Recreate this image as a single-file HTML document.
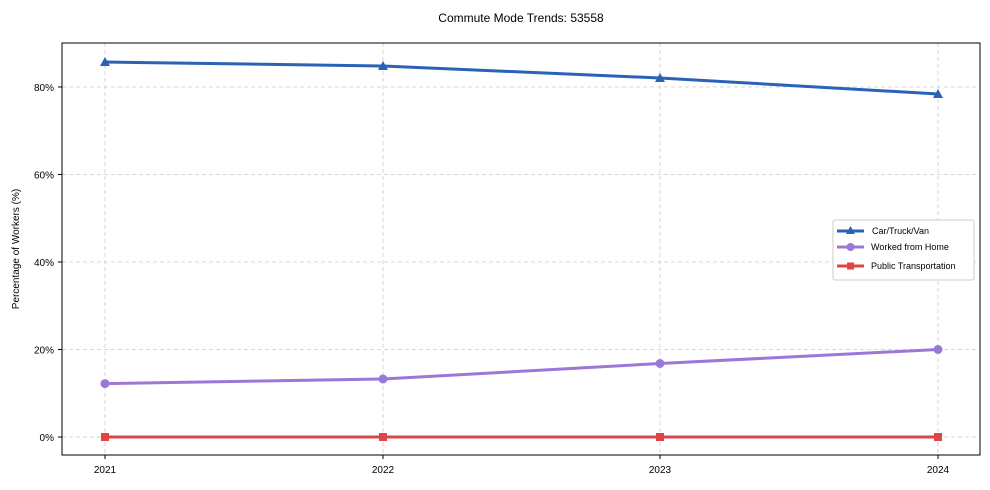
<!DOCTYPE html>
<html><head><style>body{margin:0;background:#fff}svg{display:block}text{font-family:"Liberation Sans",sans-serif;fill:#000}</style></head><body>
<svg width="990" height="490" viewBox="0 0 990 490">
<rect width="990" height="490" fill="#fff"/>
<text x="521" y="22" font-size="12" text-anchor="middle">Commute Mode Trends: 53558</text>
<g stroke="#ccc" stroke-dasharray="4,3" stroke-width="0.8">
<line x1="105" y1="43" x2="105" y2="455"/><line x1="383" y1="43" x2="383" y2="455"/><line x1="660" y1="43" x2="660" y2="455"/><line x1="938" y1="43" x2="938" y2="455"/>
<line x1="62" y1="437" x2="980" y2="437"/><line x1="62" y1="349.5" x2="980" y2="349.5"/><line x1="62" y1="262" x2="980" y2="262"/><line x1="62" y1="174.5" x2="980" y2="174.5"/><line x1="62" y1="87" x2="980" y2="87"/>
</g>
<rect x="62" y="43" width="918" height="412" fill="none" stroke="#000" stroke-width="1"/>
<g stroke="#000"><line x1="105" y1="455" x2="105" y2="459"/><line x1="383" y1="455" x2="383" y2="459"/><line x1="660" y1="455" x2="660" y2="459"/><line x1="938" y1="455" x2="938" y2="459"/>
<line x1="58" y1="437" x2="62" y2="437"/><line x1="58" y1="349.5" x2="62" y2="349.5"/><line x1="58" y1="262" x2="62" y2="262"/><line x1="58" y1="174.5" x2="62" y2="174.5"/><line x1="58" y1="87" x2="62" y2="87"/></g>
<g font-size="10" text-anchor="middle"><text x="105" y="473">2021</text><text x="383" y="473">2022</text><text x="660" y="473">2023</text><text x="938" y="473">2024</text></g>
<g font-size="10" text-anchor="end"><text x="54" y="441">0%</text><text x="54" y="353.5">20%</text><text x="54" y="266">40%</text><text x="54" y="178.5">60%</text><text x="54" y="91">80%</text></g>
<text transform="translate(19,249) rotate(-90)" font-size="10" text-anchor="middle">Percentage of Workers (%)</text>
<polyline points="105,62 383,66 660,78 938,94" fill="none" stroke="#2a62b8" stroke-width="3"/>
<g fill="#2a62b8"><path d="M105,57 L110,66 L100,66Z"/><path d="M383,61 L388,70 L378,70Z"/><path d="M660,73 L665,82 L655,82Z"/><path d="M938,89 L943,98 L933,98Z"/></g>
<polyline points="105,383.6 383,379 660,363.5 938,349.5" fill="none" stroke="#9b78d8" stroke-width="3"/>
<g fill="#9b78d8"><circle cx="105" cy="383.6" r="4.5"/><circle cx="383" cy="379" r="4.5"/><circle cx="660" cy="363.5" r="4.5"/><circle cx="938" cy="349.5" r="4.5"/></g>
<polyline points="105,437 938,437" fill="none" stroke="#e04444" stroke-width="3"/>
<g fill="#e04444"><rect x="101" y="433" width="8" height="8"/><rect x="379" y="433" width="8" height="8"/><rect x="656" y="433" width="8" height="8"/><rect x="934" y="433" width="8" height="8"/></g>
<rect x="833" y="220" width="141" height="60" rx="2" fill="#fff" stroke="#ccc"/>
<line x1="837" y1="231" x2="864" y2="231" stroke="#2a62b8" stroke-width="3"/><path d="M850.5,226 L855,234 L846,234Z" fill="#2a62b8"/>
<line x1="837" y1="247" x2="864" y2="247" stroke="#9b78d8" stroke-width="3"/><circle cx="850.5" cy="247" r="4" fill="#9b78d8"/>
<line x1="837" y1="266" x2="864" y2="266" stroke="#e04444" stroke-width="3"/><rect x="847" y="262.5" width="7" height="7" fill="#e04444"/>
<g font-size="9"><text x="872" y="234">Car/Truck/Van</text><text x="871" y="250">Worked from Home</text><text x="871" y="269">Public Transportation</text></g>
</svg>
</body></html>
